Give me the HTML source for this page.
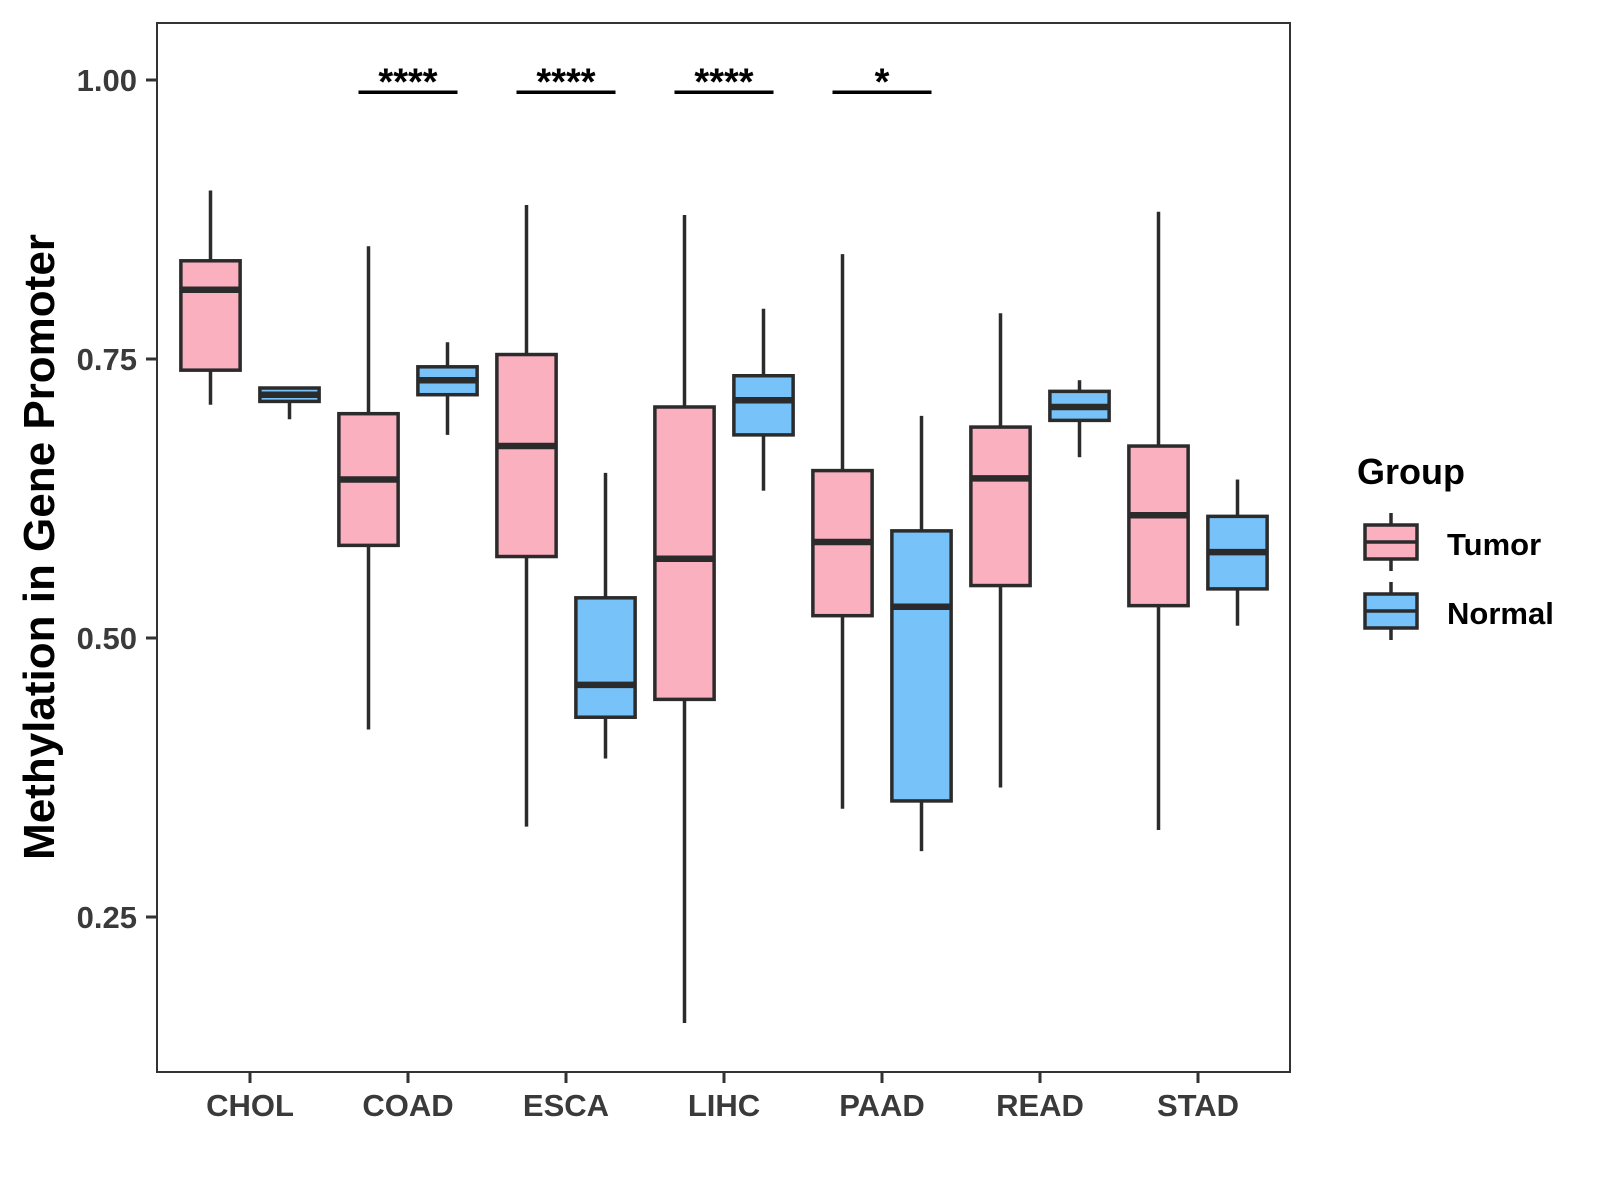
<!DOCTYPE html>
<html><head><meta charset="utf-8"><style>
html,body{margin:0;padding:0;background:#fff;}
svg{display:block;font-family:"Liberation Sans",Arial,sans-serif;}
</style></head><body>
<svg id="chart" width="1600" height="1200" viewBox="0 0 1600 1200">
<rect x="157" y="23" width="1133" height="1049" fill="#fff" stroke="#333" stroke-width="2"/>
<g id="marks"></g>
<g id="axes"></g>
<text x="0" y="0" transform="translate(54,547) rotate(-90)" text-anchor="middle" font-size="44" font-weight="bold" fill="#000">Methylation in Gene Promoter</text>
<g>
<text x="1357" y="484" font-size="36" font-weight="bold" fill="#000">Group</text>
<g>
<line x1="1391" y1="513" x2="1391" y2="571" stroke="#2b2b2b" stroke-width="3.5"/>
<rect x="1365" y="525" width="52" height="34" fill="#FBB0C0" stroke="#2b2b2b" stroke-width="3.5"/>
<line x1="1365" y1="542" x2="1417" y2="542" stroke="#2b2b2b" stroke-width="3.5"/>
<text x="1447" y="555" font-size="31" font-weight="bold" fill="#000">Tumor</text>
</g>
<g>
<line x1="1391" y1="582" x2="1391" y2="640" stroke="#2b2b2b" stroke-width="3.5"/>
<rect x="1365" y="594" width="52" height="34" fill="#77C2F8" stroke="#2b2b2b" stroke-width="3.5"/>
<line x1="1365" y1="611" x2="1417" y2="611" stroke="#2b2b2b" stroke-width="3.5"/>
<text x="1447" y="624" font-size="31" font-weight="bold" fill="#000">Normal</text>
</g>
</g>
</svg>
<script>
const categories = ["CHOL","COAD","ESCA","LIHC","PAAD","READ","STAD"];
// [lowWhisker, q1, median, q3, highWhisker]
const tumorStats = [
 [0.709,0.740,0.812,0.838,0.901],
 [0.418,0.583,0.642,0.701,0.851],
 [0.331,0.573,0.672,0.754,0.888],
 [0.155,0.445,0.571,0.707,0.879],
 [0.347,0.520,0.586,0.650,0.844],
 [0.366,0.547,0.643,0.689,0.791],
 [0.328,0.529,0.610,0.672,0.882]
];
const normalStats = [
 [0.696,0.712,0.718,0.724,0.724],
 [0.682,0.718,0.731,0.743,0.765],
 [0.392,0.429,0.458,0.536,0.648],
 [0.632,0.682,0.713,0.735,0.795],
 [0.309,0.354,0.528,0.596,0.699],
 [0.662,0.695,0.707,0.721,0.731],
 [0.511,0.544,0.577,0.609,0.642]
];
const yTicks = [0.25,0.50,0.75,1.00];
const yTickLabels = ["0.25","0.50","0.75","1.00"];
const sigCategories = ["COAD","ESCA","LIHC","PAAD"];
const sigLabels = ["****","****","****","*"];
const sigLevel = 0.989;

const NS = "http://www.w3.org/2000/svg";
const Y0 = 80, PX_PER_UNIT = 1116;
function yScale(v){ return Y0 + (1 - v) * PX_PER_UNIT; }
function xScale(i){ return 250 + i * 158; }
const STEP = 158, BOXW = 0.375 * STEP, DODGE = 0.25 * STEP;
function mk(tag, attrs, parent){ const e = document.createElementNS(NS, tag); for (const k in attrs) e.setAttribute(k, attrs[k]); parent.appendChild(e); return e; }
const marks = document.getElementById('marks');
const axes = document.getElementById('axes');

function drawBox(s, cx, fill, name){
  const g = mk('g', {}, marks);
  
  
  mk('line', {x1:cx, x2:cx, y1:yScale(s[4]), y2:yScale(s[3]), stroke:'#2b2b2b','stroke-width':3.5}, g);
  mk('line', {x1:cx, x2:cx, y1:yScale(s[1]), y2:yScale(s[0]), stroke:'#2b2b2b','stroke-width':3.5}, g);
  mk('rect', {x:cx-BOXW/2, y:yScale(s[3]), width:BOXW, height:Math.max(yScale(s[1])-yScale(s[3]),1), fill:fill, stroke:'#2b2b2b','stroke-width':3.5}, g);
  mk('line', {x1:cx-BOXW/2, x2:cx+BOXW/2, y1:yScale(s[2]), y2:yScale(s[2]), stroke:'#2b2b2b','stroke-width':6.5}, g);
}
categories.forEach((c, i) => {
  drawBox(tumorStats[i], xScale(i) - DODGE, '#FBB0C0', 'box-tumor-' + c.toLowerCase());
  drawBox(normalStats[i], xScale(i) + DODGE, '#77C2F8', 'box-normal-' + c.toLowerCase());
  const t = mk('line', {x1:xScale(i), x2:xScale(i), y1:1072, y2:1083, stroke:'#333','stroke-width':3}, axes);
  
  
  const l = mk('text', {x:xScale(i), y:1116, 'text-anchor':'middle','font-size':31,'font-weight':'bold',fill:'#3a3a3a'}, axes);
  l.textContent = c;
  
  
});
yTicks.forEach((v, i) => {
  const t = mk('line', {x1:146, x2:157, y1:yScale(v), y2:yScale(v), stroke:'#333','stroke-width':3}, axes);
  
  
  const l = mk('text', {x:137, y:yScale(v)+11, 'text-anchor':'end','font-size':31,'font-weight':'bold',fill:'#3a3a3a'}, axes);
  l.textContent = yTickLabels[i];
  
  
});
sigCategories.forEach((c, k) => {
  const i = categories.indexOf(c);
  const ln = mk('line', {x1:xScale(i)-DODGE-10, x2:xScale(i)+DODGE+10, y1:yScale(sigLevel), y2:yScale(sigLevel), stroke:'#000','stroke-width':3.5}, marks);
  
  
  const tx = mk('text', {x:xScale(i), y:yScale(sigLevel)+2, 'text-anchor':'middle','font-size':38,'font-weight':'bold',fill:'#000'}, marks);
  tx.textContent = sigLabels[k];
  
  
});
</script>
</body></html>
